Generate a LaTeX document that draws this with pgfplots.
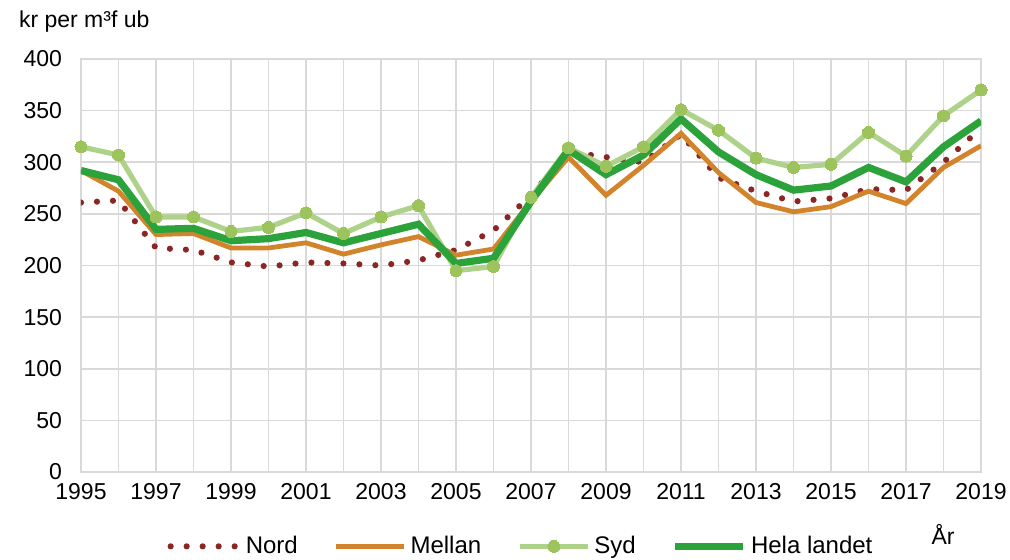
\documentclass[border=0pt]{standalone}
\usepackage{fontspec}
\setmainfont{Liberation Sans}
\usepackage{pgfplots}
\pgfplotsset{compat=1.18}
\definecolor{nord}{HTML}{8A2626}
\definecolor{mellan}{HTML}{D2842C}
\definecolor{sydline}{HTML}{AFD28A}
\definecolor{sydmark}{HTML}{9DC45C}
\definecolor{hela}{HTML}{2CA23A}
\definecolor{gridc}{HTML}{D9D9D9}
\begin{document}
\begin{tikzpicture}
\useasboundingbox (0,0) rectangle (505pt,279.5pt);
\begin{axis}[
  at={(40.5pt,43.5pt)}, anchor=south west,
  scale only axis, width=450pt, height=206.5pt,
  xmin=1995, xmax=2019, ymin=0, ymax=400,
  xtick={1995,1997,...,2019},
  minor xtick={1996,1998,...,2018},
  ytick={0,50,...,400},
  grid=both,
  major grid style={draw=gridc, line width=0.8pt},
  minor grid style={draw=gridc, line width=0.8pt},
  axis line style={draw=gridc, line width=0.8pt},
  major tick length=0pt, minor tick length=0pt,
  /pgf/number format/assume math mode=true,
  xticklabel style={/pgf/number format/1000 sep=, yshift=-2pt},
  yticklabel style={xshift=-6pt},
  ticklabel style={font=\fontsize{11.5}{13}\selectfont},
  legend style={at={(0.49,-0.18)}, anchor=center, draw=none, fill=none,
    font=\fontsize{12}{14}\selectfont, legend columns=4,
    /tikz/every even column/.append style={column sep=16pt}},
  legend cell align=left,
  legend image code/.code={\draw[mark repeat=2,mark phase=2] plot coordinates {(0pt,0pt) (17pt,0pt) (34pt,0pt)};},
]
\addplot[nord, line width=3.1pt, line cap=round, dash pattern=on 0pt off 8pt] coordinates {
(1995,261)(1996,263)(1997,217)(1998,215)(1999,203)(2000,199)(2001,203)(2002,202)(2003,200)(2004,205)
(2005,215)(2006,234)(2007,268)(2008,310)(2009,305)(2010,300)(2011,327)(2012,285)(2013,272)(2014,262)
(2015,265)(2016,274)(2017,273)(2018,300)(2019,333)};
\addlegendentry{Nord}
\addplot[mellan, line width=2.4pt] coordinates {
(1995,292)(1996,272)(1997,230)(1998,231)(1999,217)(2000,217)(2001,222)(2002,211)(2003,220)(2004,228)
(2005,210)(2006,216)(2007,262)(2008,305)(2009,268)(2010,297)(2011,328)(2012,290)(2013,261)(2014,252)
(2015,257)(2016,272)(2017,260)(2018,295)(2019,316)};
\addlegendentry{Mellan}
\addplot[sydline, line width=2.6pt, mark=*, mark size=3pt, mark options={solid, fill=sydmark, draw=sydmark, line width=0pt}] coordinates {
(1995,315)(1996,307)(1997,247)(1998,247)(1999,233)(2000,237)(2001,251)(2002,231)(2003,247)(2004,258)
(2005,195)(2006,199)(2007,266)(2008,314)(2009,296)(2010,315)(2011,351)(2012,331)(2013,304)(2014,295)
(2015,298)(2016,329)(2017,306)(2018,345)(2019,370)};
\addlegendentry{Syd}
\addplot[hela, line width=3.6pt] coordinates {
(1995,292)(1996,283)(1997,235)(1998,236)(1999,224)(2000,226)(2001,232)(2002,222)(2003,231)(2004,240)
(2005,202)(2006,207)(2007,262)(2008,312)(2009,288)(2010,307)(2011,342)(2012,310)(2013,288)(2014,273)
(2015,277)(2016,295)(2017,281)(2018,315)(2019,340)};
\addlegendentry{Hela landet}
\end{axis}
\node[anchor=west, font=\fontsize{11.5}{13}\selectfont] at (6pt,268.5pt) {kr per m³f ub};
\node[font=\fontsize{11.5}{13}\selectfont] at (471.5pt,12.5pt) {År};
\end{tikzpicture}
\end{document}
